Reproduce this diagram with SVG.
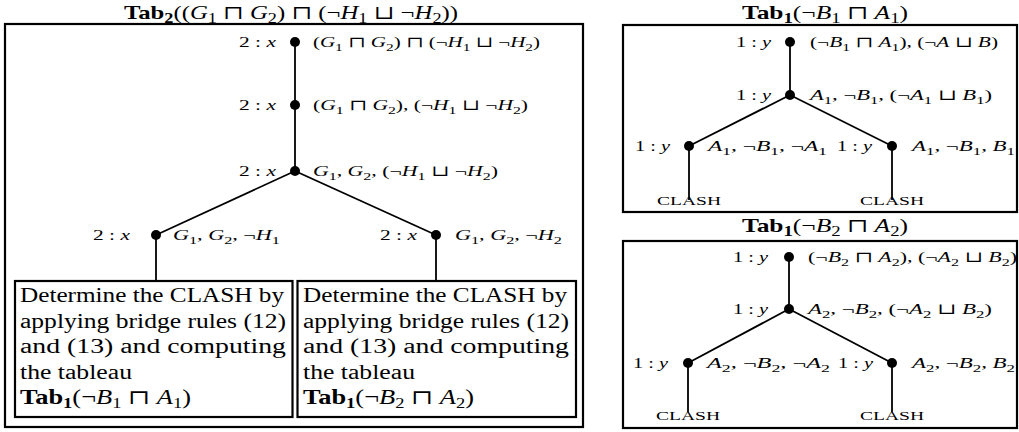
<svg xmlns="http://www.w3.org/2000/svg" width="1019" height="432" viewBox="0 0 1019 432">
<style>
.t{font-family:"Liberation Serif","DejaVu Serif","DejaVu Sans",serif;fill:#000}
.l{font-size:15px}
.i{font-style:italic}
.s{font-size:11px}
.s2{font-size:14px}
.b{font-weight:bold}
.bx{font-size:20px}
.ti{font-size:19px}
.cl{font-size:12px}
.edge{stroke:#000;stroke-width:1.8;fill:none}
.frame{fill:none;stroke:#000;stroke-width:2.2}
.dot{fill:#000}
</style>
<rect width="1019" height="432" fill="#fff"/>

<!-- Frames and titles -->
<g id="panel-left">
<rect class="frame" x="5" y="24" width="578" height="403"/>
<text class="t ti" x="124" y="19" textLength="334" lengthAdjust="spacingAndGlyphs"><tspan class="b">Tab</tspan><tspan class="s2 b" dy="4">2</tspan><tspan dy="-4">((</tspan><tspan class="i">G</tspan><tspan class="s2" dy="4">1</tspan><tspan dy="-4"> ⊓ </tspan><tspan class="i">G</tspan><tspan class="s2" dy="4">2</tspan><tspan dy="-4">) ⊓ (¬</tspan><tspan class="i">H</tspan><tspan class="s2" dy="4">1</tspan><tspan dy="-4"> ⊔ ¬</tspan><tspan class="i">H</tspan><tspan class="s2" dy="4">2</tspan><tspan dy="-4">))</tspan></text>
</g>
<g id="panel-right-top">
<rect class="frame" x="623" y="25" width="394" height="187"/>
<text class="t ti" x="742" y="19" textLength="166" lengthAdjust="spacingAndGlyphs"><tspan class="b">Tab</tspan><tspan class="s2 b" dy="4">1</tspan><tspan dy="-4">(¬</tspan><tspan class="i">B</tspan><tspan class="s2" dy="4">1</tspan><tspan dy="-4"> ⊓ </tspan><tspan class="i">A</tspan><tspan class="s2" dy="4">1</tspan><tspan dy="-4">)</tspan></text>
</g>
<g id="panel-right-bottom">
<rect class="frame" x="623" y="241" width="394" height="187"/>
<text class="t ti" x="742" y="232" textLength="166" lengthAdjust="spacingAndGlyphs"><tspan class="b">Tab</tspan><tspan class="s2 b" dy="4">1</tspan><tspan dy="-4">(¬</tspan><tspan class="i">B</tspan><tspan class="s2" dy="4">2</tspan><tspan dy="-4"> ⊓ </tspan><tspan class="i">A</tspan><tspan class="s2" dy="4">2</tspan><tspan dy="-4">)</tspan></text>
</g>

<!-- Connectors -->
<g id="connectors" class="edge">
<line x1="295" y1="42" x2="295" y2="171"/>
<line x1="295" y1="171" x2="156" y2="235"/>
<line x1="295" y1="171" x2="436" y2="235"/>
<line x1="156" y1="235" x2="156" y2="281"/>
<line x1="436" y1="235" x2="436" y2="281"/>
<line x1="790" y1="42" x2="790" y2="95"/>
<line x1="790" y1="95" x2="689" y2="146"/>
<line x1="790" y1="95" x2="892" y2="146"/>
<line x1="689" y1="146" x2="689" y2="200"/>
<line x1="892" y1="146" x2="892" y2="200"/>
<line x1="789" y1="257" x2="789" y2="309"/>
<line x1="789" y1="309" x2="688" y2="363"/>
<line x1="789" y1="309" x2="892" y2="363"/>
<line x1="688" y1="363" x2="688" y2="412"/>
<line x1="892" y1="363" x2="892" y2="412"/>
</g>

<!-- Left tree nodes -->
<g id="n-l1">
<circle class="dot" cx="295" cy="42" r="5"/>
<text class="t l" x="276" y="47" text-anchor="end" textLength="37" lengthAdjust="spacingAndGlyphs">2 : <tspan class="i">x</tspan></text>
<text class="t l" x="313" y="47" textLength="227" lengthAdjust="spacingAndGlyphs">(<tspan class="i">G</tspan><tspan class="s" dy="3.5">1</tspan><tspan dy="-3.5"> ⊓ </tspan><tspan class="i">G</tspan><tspan class="s" dy="3.5">2</tspan><tspan dy="-3.5">) ⊓ (¬</tspan><tspan class="i">H</tspan><tspan class="s" dy="3.5">1</tspan><tspan dy="-3.5"> ⊔ ¬</tspan><tspan class="i">H</tspan><tspan class="s" dy="3.5">2</tspan><tspan dy="-3.5">)</tspan></text>
</g>
<g id="n-l2">
<circle class="dot" cx="295" cy="105" r="5"/>
<text class="t l" x="276" y="110" text-anchor="end" textLength="37" lengthAdjust="spacingAndGlyphs">2 : <tspan class="i">x</tspan></text>
<text class="t l" x="313" y="110" textLength="215" lengthAdjust="spacingAndGlyphs">(<tspan class="i">G</tspan><tspan class="s" dy="3.5">1</tspan><tspan dy="-3.5"> ⊓ </tspan><tspan class="i">G</tspan><tspan class="s" dy="3.5">2</tspan><tspan dy="-3.5">), (¬</tspan><tspan class="i">H</tspan><tspan class="s" dy="3.5">1</tspan><tspan dy="-3.5"> ⊔ ¬</tspan><tspan class="i">H</tspan><tspan class="s" dy="3.5">2</tspan><tspan dy="-3.5">)</tspan></text>
</g>
<g id="n-l3">
<circle class="dot" cx="295" cy="171" r="5"/>
<text class="t l" x="276" y="176" text-anchor="end" textLength="37" lengthAdjust="spacingAndGlyphs">2 : <tspan class="i">x</tspan></text>
<text class="t l" x="313" y="176" textLength="185" lengthAdjust="spacingAndGlyphs"><tspan class="i">G</tspan><tspan class="s" dy="3.5">1</tspan><tspan dy="-3.5">, </tspan><tspan class="i">G</tspan><tspan class="s" dy="3.5">2</tspan><tspan dy="-3.5">, (¬</tspan><tspan class="i">H</tspan><tspan class="s" dy="3.5">1</tspan><tspan dy="-3.5"> ⊔ ¬</tspan><tspan class="i">H</tspan><tspan class="s" dy="3.5">2</tspan><tspan dy="-3.5">)</tspan></text>
</g>
<g id="n-l4">
<circle class="dot" cx="156" cy="235" r="5"/>
<text class="t l" x="130" y="240" text-anchor="end" textLength="37" lengthAdjust="spacingAndGlyphs">2 : <tspan class="i">x</tspan></text>
<text class="t l" x="173" y="240" textLength="107" lengthAdjust="spacingAndGlyphs"><tspan class="i">G</tspan><tspan class="s" dy="3.5">1</tspan><tspan dy="-3.5">, </tspan><tspan class="i">G</tspan><tspan class="s" dy="3.5">2</tspan><tspan dy="-3.5">, ¬</tspan><tspan class="i">H</tspan><tspan class="s" dy="3.5">1</tspan></text>
</g>
<g id="n-l5">
<circle class="dot" cx="436" cy="235" r="5"/>
<text class="t l" x="417" y="240" text-anchor="end" textLength="37" lengthAdjust="spacingAndGlyphs">2 : <tspan class="i">x</tspan></text>
<text class="t l" x="455" y="240" textLength="107" lengthAdjust="spacingAndGlyphs"><tspan class="i">G</tspan><tspan class="s" dy="3.5">1</tspan><tspan dy="-3.5">, </tspan><tspan class="i">G</tspan><tspan class="s" dy="3.5">2</tspan><tspan dy="-3.5">, ¬</tspan><tspan class="i">H</tspan><tspan class="s" dy="3.5">2</tspan></text>
</g>

<!-- Inner boxes -->
<g id="box-left">
<rect class="frame" x="15" y="281" width="277.5" height="136"/>
<text class="t bx" x="20" y="302" textLength="264" lengthAdjust="spacingAndGlyphs">Determine the CLASH by</text>
<text class="t bx" x="20" y="328" textLength="266" lengthAdjust="spacingAndGlyphs">applying bridge rules (12)</text>
<text class="t bx" x="20" y="353" textLength="266" lengthAdjust="spacingAndGlyphs">and (13) and computing</text>
<text class="t bx" x="20" y="379" textLength="112" lengthAdjust="spacingAndGlyphs">the tableau</text>
<text class="t bx" x="20" y="404" textLength="171" lengthAdjust="spacingAndGlyphs"><tspan class="b">Tab</tspan><tspan class="s2 b" dy="4">1</tspan><tspan dy="-4">(¬</tspan><tspan class="i">B</tspan><tspan class="s2" dy="4">1</tspan><tspan dy="-4"> ⊓ </tspan><tspan class="i">A</tspan><tspan class="s2" dy="4">1</tspan><tspan dy="-4">)</tspan></text>
</g>
<g id="box-right">
<rect class="frame" x="297.5" y="281" width="278.5" height="136"/>
<text class="t bx" x="303" y="302" textLength="264" lengthAdjust="spacingAndGlyphs">Determine the CLASH by</text>
<text class="t bx" x="303" y="328" textLength="266" lengthAdjust="spacingAndGlyphs">applying bridge rules (12)</text>
<text class="t bx" x="303" y="353" textLength="266" lengthAdjust="spacingAndGlyphs">and (13) and computing</text>
<text class="t bx" x="303" y="379" textLength="112" lengthAdjust="spacingAndGlyphs">the tableau</text>
<text class="t bx" x="303" y="404" textLength="171" lengthAdjust="spacingAndGlyphs"><tspan class="b">Tab</tspan><tspan class="s2 b" dy="4">1</tspan><tspan dy="-4">(¬</tspan><tspan class="i">B</tspan><tspan class="s2" dy="4">2</tspan><tspan dy="-4"> ⊓ </tspan><tspan class="i">A</tspan><tspan class="s2" dy="4">2</tspan><tspan dy="-4">)</tspan></text>
</g>

<!-- Right top tree -->
<g id="n-a1">
<circle class="dot" cx="790" cy="42" r="5"/>
<text class="t l" x="771" y="47" text-anchor="end" textLength="35" lengthAdjust="spacingAndGlyphs">1 : <tspan class="i">y</tspan></text>
<text class="t l" x="810" y="47" textLength="188" lengthAdjust="spacingAndGlyphs">(¬<tspan class="i">B</tspan><tspan class="s" dy="3.5">1</tspan><tspan dy="-3.5"> ⊓ </tspan><tspan class="i">A</tspan><tspan class="s" dy="3.5">1</tspan><tspan dy="-3.5">), (¬</tspan><tspan class="i">A</tspan> ⊔ <tspan class="i">B</tspan>)</text>
</g>
<g id="n-a2">
<circle class="dot" cx="790" cy="95" r="5"/>
<text class="t l" x="771" y="100" text-anchor="end" textLength="35" lengthAdjust="spacingAndGlyphs">1 : <tspan class="i">y</tspan></text>
<text class="t l" x="810" y="100" textLength="182" lengthAdjust="spacingAndGlyphs"><tspan class="i">A</tspan><tspan class="s" dy="3.5">1</tspan><tspan dy="-3.5">, ¬</tspan><tspan class="i">B</tspan><tspan class="s" dy="3.5">1</tspan><tspan dy="-3.5">, (¬</tspan><tspan class="i">A</tspan><tspan class="s" dy="3.5">1</tspan><tspan dy="-3.5"> ⊔ </tspan><tspan class="i">B</tspan><tspan class="s" dy="3.5">1</tspan><tspan dy="-3.5">)</tspan></text>
</g>
<g id="n-a3">
<circle class="dot" cx="689" cy="146" r="5"/>
<text class="t l" x="670" y="151" text-anchor="end" textLength="35" lengthAdjust="spacingAndGlyphs">1 : <tspan class="i">y</tspan></text>
<text class="t l" x="708" y="151" textLength="119" lengthAdjust="spacingAndGlyphs"><tspan class="i">A</tspan><tspan class="s" dy="3.5">1</tspan><tspan dy="-3.5">, ¬</tspan><tspan class="i">B</tspan><tspan class="s" dy="3.5">1</tspan><tspan dy="-3.5">, ¬</tspan><tspan class="i">A</tspan><tspan class="s" dy="3.5">1</tspan></text>
<text class="t cl" x="689" y="205" text-anchor="middle" textLength="64" lengthAdjust="spacingAndGlyphs">CLASH</text>
</g>
<g id="n-a4">
<circle class="dot" cx="892" cy="146" r="5"/>
<text class="t l" x="872" y="151" text-anchor="end" textLength="35" lengthAdjust="spacingAndGlyphs">1 : <tspan class="i">y</tspan></text>
<text class="t l" x="912" y="151" textLength="103" lengthAdjust="spacingAndGlyphs"><tspan class="i">A</tspan><tspan class="s" dy="3.5">1</tspan><tspan dy="-3.5">, ¬</tspan><tspan class="i">B</tspan><tspan class="s" dy="3.5">1</tspan><tspan dy="-3.5">, </tspan><tspan class="i">B</tspan><tspan class="s" dy="3.5">1</tspan></text>
<text class="t cl" x="892" y="205" text-anchor="middle" textLength="64" lengthAdjust="spacingAndGlyphs">CLASH</text>
</g>

<!-- Right bottom tree -->
<g id="n-b1">
<circle class="dot" cx="789" cy="257" r="5"/>
<text class="t l" x="768" y="262" text-anchor="end" textLength="35" lengthAdjust="spacingAndGlyphs">1 : <tspan class="i">y</tspan></text>
<text class="t l" x="808" y="262" textLength="209" lengthAdjust="spacingAndGlyphs">(¬<tspan class="i">B</tspan><tspan class="s" dy="3.5">2</tspan><tspan dy="-3.5"> ⊓ </tspan><tspan class="i">A</tspan><tspan class="s" dy="3.5">2</tspan><tspan dy="-3.5">), (¬</tspan><tspan class="i">A</tspan><tspan class="s" dy="3.5">2</tspan><tspan dy="-3.5"> ⊔ </tspan><tspan class="i">B</tspan><tspan class="s" dy="3.5">2</tspan><tspan dy="-3.5">)</tspan></text>
</g>
<g id="n-b2">
<circle class="dot" cx="789" cy="309" r="5"/>
<text class="t l" x="768" y="314" text-anchor="end" textLength="35" lengthAdjust="spacingAndGlyphs">1 : <tspan class="i">y</tspan></text>
<text class="t l" x="808" y="314" textLength="184" lengthAdjust="spacingAndGlyphs"><tspan class="i">A</tspan><tspan class="s" dy="3.5">2</tspan><tspan dy="-3.5">, ¬</tspan><tspan class="i">B</tspan><tspan class="s" dy="3.5">2</tspan><tspan dy="-3.5">, (¬</tspan><tspan class="i">A</tspan><tspan class="s" dy="3.5">2</tspan><tspan dy="-3.5"> ⊔ </tspan><tspan class="i">B</tspan><tspan class="s" dy="3.5">2</tspan><tspan dy="-3.5">)</tspan></text>
</g>
<g id="n-b3">
<circle class="dot" cx="688" cy="363" r="5"/>
<text class="t l" x="668" y="368" text-anchor="end" textLength="35" lengthAdjust="spacingAndGlyphs">1 : <tspan class="i">y</tspan></text>
<text class="t l" x="707" y="368" textLength="123" lengthAdjust="spacingAndGlyphs"><tspan class="i">A</tspan><tspan class="s" dy="3.5">2</tspan><tspan dy="-3.5">, ¬</tspan><tspan class="i">B</tspan><tspan class="s" dy="3.5">2</tspan><tspan dy="-3.5">, ¬</tspan><tspan class="i">A</tspan><tspan class="s" dy="3.5">2</tspan></text>
<text class="t cl" x="688" y="420" text-anchor="middle" textLength="64" lengthAdjust="spacingAndGlyphs">CLASH</text>
</g>
<g id="n-b4">
<circle class="dot" cx="892" cy="363" r="5"/>
<text class="t l" x="873" y="368" text-anchor="end" textLength="35" lengthAdjust="spacingAndGlyphs">1 : <tspan class="i">y</tspan></text>
<text class="t l" x="912" y="368" textLength="103" lengthAdjust="spacingAndGlyphs"><tspan class="i">A</tspan><tspan class="s" dy="3.5">2</tspan><tspan dy="-3.5">, ¬</tspan><tspan class="i">B</tspan><tspan class="s" dy="3.5">2</tspan><tspan dy="-3.5">, </tspan><tspan class="i">B</tspan><tspan class="s" dy="3.5">2</tspan></text>
<text class="t cl" x="892" y="420" text-anchor="middle" textLength="64" lengthAdjust="spacingAndGlyphs">CLASH</text>
</g>
</svg>
